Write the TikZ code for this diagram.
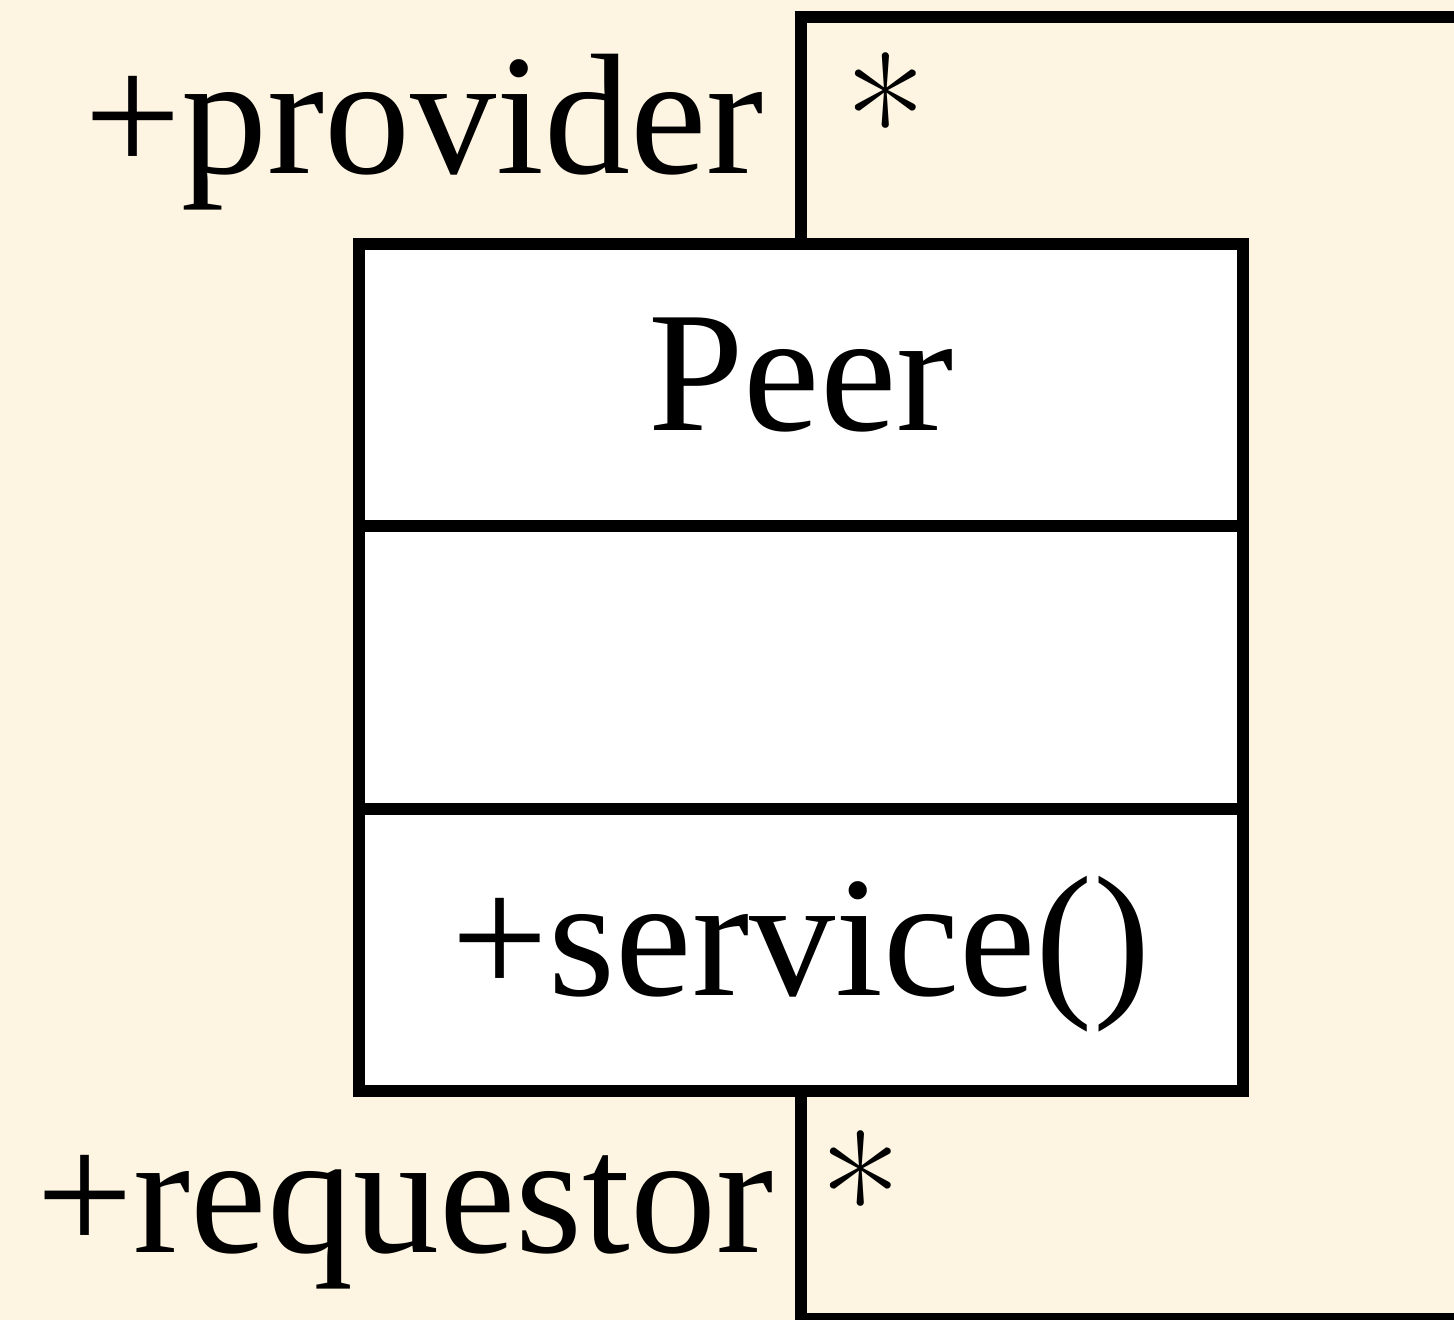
\documentclass[tikz,border=0pt]{standalone}
\usepackage{fontspec}
\setmainfont{Liberation Serif}
\definecolor{paper}{RGB}{253,245,226}
\tikzset{
  umltext/.style={font=\fontsize{86}{100}\selectfont, text=black},
  compartment/.style={draw=black, fill=white, line width=6pt, outer sep=0pt,
    inner sep=0pt, minimum width=442pt, minimum height=141.2pt,
    text height=55pt, text depth=9.5pt, umltext},
  assoc/.style={draw=black, line width=6pt},
  role/.style={umltext, inner sep=0pt, anchor=base west},
  mult/.style={font=\fontfamily{lmr}\fontsize{88}{100}\selectfont, text=black,
    inner sep=0pt, anchor=base west},
}
\begin{document}
\begin{tikzpicture}[x=0.5pt, y=-0.5pt]
  % page and background
  \fill[paper] (0,0) rectangle (1454,1320);
  \useasboundingbox (0,0) rectangle (1454,1320);
  \clip (0,0) rectangle (1454,1320);

  % class Peer: name, attribute and operation compartments
  \node[compartment, anchor=north] (name) at (801,244) {Peer};
  \node[compartment, anchor=north] (attrs) at (name.south) {};
  \node[compartment, anchor=north] (ops) at (attrs.south) {+service()};

  % self association leaving the class at top and bottom
  \coordinate (topright) at (1500,17);
  \coordinate (botright) at (1500,1319);
  \draw[assoc] (name.north) |- (topright);
  \draw[assoc] (ops.south) |- (botright);

  % role names and multiplicities
  \node[role] (provider) at (84,174) {+provider};
  \node[mult] (provmult) at (845,185) {*};
  \node[role] (requestor) at (36,1252) {+requestor};
  \node[mult] (reqmult) at (820,1262) {*};
\end{tikzpicture}
\end{document}
